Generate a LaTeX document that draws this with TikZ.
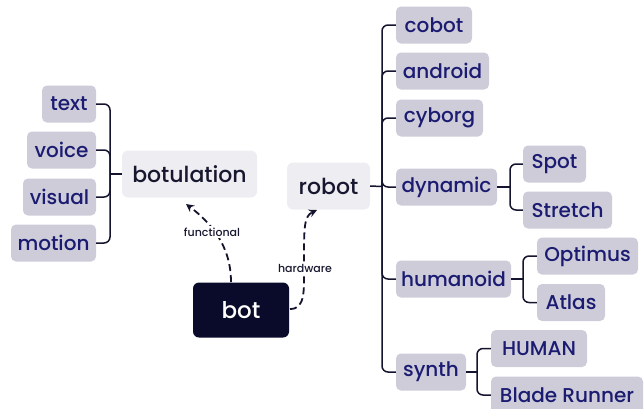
\documentclass[tikz,border=0pt]{standalone}
\usepackage{fontspec}
\setmainfont{Poppins}[UprightFont={* Medium}]
\usetikzlibrary{arrows.meta}
\definecolor{childfill}{HTML}{CDCCD8}
\definecolor{childtext}{HTML}{1B1B72}
\definecolor{parentfill}{HTML}{EEEDF1}
\definecolor{parenttext}{HTML}{17172F}
\definecolor{botfill}{HTML}{0A0A2A}
\definecolor{linecol}{HTML}{14142E}
\tikzset{
  childbox/.style={draw=none, fill=childfill, text=childtext, rounded corners=5pt,
    inner sep=0pt, minimum height=37pt, font=\fontsize{20}{22}\selectfont},
  parentbox/.style={draw=none, fill=parentfill, text=parenttext, rounded corners=6pt,
    inner sep=0pt, minimum height=47pt, font=\fontsize{22}{24}\selectfont},
  rootbox/.style={draw=none, fill=botfill, text=white, rounded corners=6pt,
    inner sep=0pt, minimum width=96pt, minimum height=55pt, font=\fontsize{23}{25}\selectfont},
  link/.style={draw=linecol, line width=1.5pt, rounded corners=6pt},
  dasharrow/.style={draw=linecol, line width=1.8pt, dash pattern=on 7pt off 4pt,
    -{Stealth[length=8pt,width=8pt]}},
  elabel/.style={fill=white, text=parenttext, inner sep=2pt, font=\fontsize{11}{13}\selectfont}
}
\begin{document}
\begin{tikzpicture}[x=1pt,y=-1pt]
\useasboundingbox (0,0) rectangle (644,408);
% left branch
\node[childbox, minimum width=54pt] (text) at (69,104) {text};
\node[childbox, minimum width=69pt] (voice) at (61.5,150) {voice};
\node[childbox, minimum width=73pt] (visual) at (59.5,197) {visual};
\node[childbox, minimum width=85pt] (motion) at (53.5,243) {motion};
\node[parentbox, minimum width=135pt] (botulation) at (189.5,174) {botulation};
\node[rootbox] (bot) at (241,310) {bot};
\node[parentbox, minimum width=83pt] (robot) at (328.5,186) {robot};
% right branch
\node[childbox, minimum width=76pt] (cobot) at (434,25) {cobot};
\node[childbox, minimum width=93pt] (android) at (442.5,71) {android};
\node[childbox, minimum width=87pt] (cyborg) at (439.5,118) {cyborg};
\node[childbox, minimum width=101pt] (dynamic) at (446.5,187) {dynamic};
\node[childbox, minimum width=63pt] (spot) at (554.5,164) {Spot};
\node[childbox, minimum width=89pt] (stretch) at (567.5,210) {Stretch};
\node[childbox, minimum width=115pt] (humanoid) at (453.5,279) {humanoid};
\node[childbox, minimum width=101pt] (optimus) at (587.5,256) {Optimus};
\node[childbox, minimum width=68pt] (atlas) at (571,302.5) {Atlas};
\node[childbox, minimum width=70pt] (synth) at (431,372) {synth};
\node[childbox, minimum width=96pt] (human) at (539,348.5) {HUMAN};
\node[childbox, minimum width=152pt] (blade) at (567,395) {Blade Runner};
% junction coordinates
\coordinate (jl) at (110,174);
\coordinate (jr) at (382,186.5);
\coordinate (jd) at (510,187);
\coordinate (jh) at (523,279);
\coordinate (js) at (477,372);
% left bracket
\draw[link] (botulation.west) -- (jl);
\foreach \c in {text,voice,visual,motion} \draw[link] (jl) |- (\c.east);
% robot bracket
\draw[link] (robot.east) -- (jr);
\foreach \c in {cobot,android,cyborg,dynamic,humanoid,synth} \draw[link] (jr) |- (\c.west);
\draw[link] (dynamic.east) -- (jd);
\foreach \c in {spot,stretch} \draw[link] (jd) |- (\c.west);
\draw[link] (humanoid.east) -- (jh);
\foreach \c in {optimus,atlas} \draw[link] (jh) |- (\c.west);
\draw[link] (synth.east) -- (js);
\foreach \c in {human,blade} \draw[link] (js) |- (\c.west);
% dashed arrows
\coordinate (fs) at (231,282);
\coordinate (fe) at (186,204);
\draw[dasharrow] (fs) .. controls (231,245) and (210,222) .. (fe);
\node[elabel] (flabel) at (212,232) {functional};
\coordinate (hs) at (290,309);
\coordinate (he) at (317,210);
\draw[dasharrow] (hs) .. controls (306,309) and (304,290) .. (304,260) .. controls (304,228) and (304,216) .. (he);
\node[elabel] (hlabel) at (305,268) {hardware};
\end{tikzpicture}
\end{document}
